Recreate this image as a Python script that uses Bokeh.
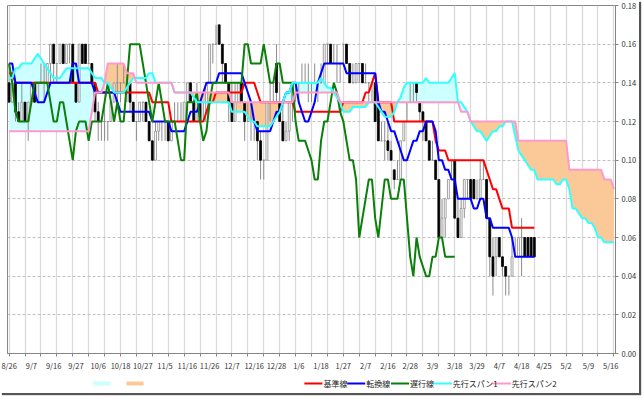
import numpy as np
from bokeh.plotting import figure
from bokeh.layouts import column
from bokeh.models import Range1d, FixedTicker, NumeralTickFormatter
from bokeh.core.properties import value
from bokeh.embed import file_html
from bokeh.resources import INLINE

# ---------------- data ----------------
date_labels = ["8/26", "9/7", "9/16", "9/27", "10/6", "10/18", "10/27", "11/5", "11/16",
               "11/26", "12/7", "12/16", "12/28", "1/6", "1/18", "1/27", "2/7", "2/16",
               "2/28", "3/9", "3/18", "3/29", "4/7", "4/18", "4/25", "5/2", "5/9", "5/16"]

open_px = [
    .14, .13, .14, .125, .12, .13, .12, .13, .14, .13,
    .14, .14, .14, .15, .16, .15, .15, .16, .15, .16,
    .16, .14, .13, .16, .16, .15, .15, .14, .125, .12,
    .12, .12, .12, .13, .14, .14, .14, .14, .14, .13,
    .12, .12, .13, .13, .12, .11, .10, .115, .12, .12,
    .12, .11, .12, .12, .12, .12, .13, .14, .13, .12,
    .13, .12, .12, .14, .16, .16, .17, .16, .15, .14,
    .13, .12, .13, .14, .13, .12, .12, .12, .12, .11,
    .10, .10, .13, .13, .15, .13, .12, .11, .115, .13,
    .14, .14, .14, .14, .14, .14, .14, .14, .14, .14,
    .16, .16, .15, .15, .15, .16, .16, .15, .14, .14,
    .15, .15, .14, .14, .14, .14, .13, .11, .11, .11,
    .105, .095, .09, .09, .11, .12, .13, .14, .14, .13,
    .125, .12, .11, .10, .10, .09, .06, .07, .08, .09,
    .10, .07, .06, .075, .09, .09, .09, .08, .08, .09,
    .09, .07, .05, .05, .06, .05, .045, .04, .04, .05,
    .05, .06, .06, .06, .06, .06]
high_px = [
    .15, .14, .14, .13, .14, .13, .13, .14, .14, .14,
    .15, .15, .15, .16, .16, .15, .16, .16, .16, .16,
    .16, .14, .16, .16, .16, .16, .15, .14, .13, .12,
    .13, .12, .13, .14, .15, .14, .15, .14, .14, .13,
    .12, .13, .13, .13, .12, .11, .12, .12, .12, .12,
    .12, .12, .13, .13, .13, .13, .14, .14, .13, .14,
    .13, .13, .14, .16, .16, .17, .17, .16, .15, .14,
    .14, .14, .14, .14, .13, .13, .13, .12, .12, .115,
    .10, .13, .14, .14, .16, .14, .13, .12, .13, .14,
    .14, .14, .15, .15, .15, .14, .15, .14, .15, .16,
    .16, .16, .16, .16, .15, .16, .16, .15, .15, .15,
    .15, .15, .15, .14, .14, .14, .13, .12, .12, .12,
    .11, .095, .10, .11, .12, .13, .14, .14, .14, .13,
    .125, .12, .11, .11, .10, .09, .08, .08, .09, .10,
    .10, .08, .08, .09, .09, .09, .09, .09, .10, .10,
    .09, .07, .06, .06, .06, .05, .045, .04, .06, .06,
    .06, .07, .06, .06, .06, .06]
low_px = [
    .13, .13, .12, .12, .12, .12, .11, .13, .13, .13,
    .14, .13, .14, .14, .14, .14, .15, .15, .15, .15,
    .14, .13, .13, .15, .15, .15, .14, .12, .11, .11,
    .11, .11, .12, .13, .13, .13, .14, .13, .125, .12,
    .11, .12, .12, .12, .11, .10, .10, .11, .11, .11,
    .11, .11, .12, .12, .12, .12, .13, .13, .12, .12,
    .12, .12, .12, .14, .15, .16, .16, .14, .14, .12,
    .12, .12, .13, .13, .11, .12, .11, .11, .10, .09,
    .09, .10, .12, .13, .13, .12, .11, .11, .11, .12,
    .13, .13, .14, .14, .13, .13, .14, .13, .14, .14,
    .15, .15, .15, .14, .14, .15, .15, .14, .14, .14,
    .14, .14, .14, .13, .13, .12, .11, .11, .10, .10,
    .10, .085, .09, .09, .11, .12, .13, .13, .13, .12,
    .11, .11, .10, .10, .09, .06, .06, .06, .08, .09,
    .07, .06, .06, .07, .08, .08, .08, .08, .08, .09,
    .07, .04, .03, .04, .05, .04, .03, .03, .04, .05,
    .05, .04, .05, .05, .05, .05]
close_px = [
    .13, .14, .125, .12, .13, .12, .13, .14, .13, .14,
    .14, .14, .15, .16, .15, .15, .16, .15, .16, .16,
    .14, .13, .16, .15, .15, .15, .14, .125, .12, .12,
    .12, .12, .13, .14, .14, .14, .14, .14, .13, .12,
    .12, .13, .13, .12, .11, .10, .115, .12, .12, .12,
    .11, .12, .12, .12, .12, .13, .14, .13, .12, .13,
    .12, .12, .14, .16, .16, .16, .16, .15, .14, .13,
    .12, .13, .14, .13, .12, .12, .12, .12, .11, .10,
    .10, .13, .13, .13, .135, .12, .11, .115, .13, .14,
    .14, .14, .14, .14, .14, .14, .14, .14, .14, .16,
    .16, .15, .15, .15, .15, .16, .15, .14, .14, .15,
    .15, .14, .14, .14, .14, .12, .11, .11, .11, .105,
    .10, .09, .09, .11, .12, .12, .13, .14, .135, .125,
    .12, .11, .10, .10, .09, .06, .07, .08, .09, .09,
    .07, .06, .075, .09, .09, .08, .08, .08, .09, .09,
    .07, .05, .04, .06, .05, .045, .04, .04, .05, .05,
    .06, .06, .05, .05, .05, .05]

kijun = [  # 基準線
    .145, .145, .14, .14, .14, .14, .14, .14, .14, .14,
    .14, .14, .14, .14, .14, .14, .14, .14, .14, .14,
    .14, .14, .14, .14, .14, .14, .14, .14, .135, .135,
    .135, .135, .135, .135, .135, .135, .135, .135, .135, .135,
    .135, .135, .135, .135, .135, .13, .13, .13, .13, .13,
    .13, .12, .12, .12, .12, .12, .12, .12, .12, .12,
    .12, .12, .125, .13, .13, .135, .135, .135, .135, .135,
    .135, .135, .135, .135, .14, .14, .14, .14, .135, .13,
    .13, .13, .13, .13, .13, .13, .13, .13, .13, .13,
    .125, .125, .125, .125, .125, .125, .125, .125, .125, .125,
    .125, .125, .125, .125, .125, .13, .13, .13, .13, .13,
    .13, .13, .135, .135, .14, .145, .13, .13, .13, .13,
    .13, .12, .12, .12, .12, .12, .12, .12, .12, .12,
    .12, .12, .12, .12, .11, .105, .105, .105, .10, .10,
    .10, .10, .10, .10, .10, .10, .10, .10, .10, .10,
    .095, .09, .085, .085, .08, .075, .075, .075, .065, .065,
    .065, .065, .065, .065, .065, .065]
tenkan = [  # 転換線
    .15, .15, .14, .14, .14, .14, .14, .14, .135, .13,
    .13, .13, .135, .14, .14, .14, .14, .14, .14, .14,
    .15, .15, .14, .14, .14, .14, .14, .135, .135, .135,
    .135, .135, .135, .135, .13, .125, .125, .125, .125, .125,
    .125, .125, .125, .125, .125, .12, .12, .12, .12, .12,
    .12, .115, .115, .115, .115, .115, .12, .125, .125, .125,
    .13, .135, .14, .14, .14, .14, .145, .145, .145, .145,
    .145, .145, .145, .145, .14, .135, .13, .12, .115, .115,
    .115, .115, .115, .12, .125, .125, .13, .135, .135, .14,
    .14, .13, .125, .12, .12, .125, .13, .14, .145, .15,
    .15, .15, .15, .15, .15, .15, .145, .145, .145, .145,
    .145, .145, .145, .145, .145, .145, .13, .125, .125, .12,
    .115, .115, .11, .105, .10, .10, .105, .11, .11, .115,
    .115, .12, .12, .12, .115, .10, .10, .095, .095, .09,
    .09, .08, .08, .08, .08, .08, .075, .075, .08, .08,
    .07, .07, .065, .065, .065, .065, .065, .065, .06, .05,
    .05, .05, .05, .05, .05, .05]
span1 = [  # 先行スパン1
    .1425, .1425, .1475, .1475, .15, .15, .15, .15, .1525, .155,
    .1525, .15, .1475, .145, .1425, .1425, .1425, .145, .1475, .1475,
    .1475, .1475, .1475, .1475, .1475, .1475, .145, .1425, .1425, .1425,
    .14, .14, .1375, .135, .135, .135, .135, .1375, .14, .1425,
    .1425, .1425, .1425, .1425, .145, .145, .14, .14, .14, .14,
    .14, .14, .135, .135, .135, .135, .135, .135, .1325, .13,
    .13, .13, .13, .13, .13, .13, .13, .13, .13, .13,
    .125, .125, .125, .125, .125, .1225, .12, .12, .1175, .1175,
    .1175, .1175, .1175, .12, .1225, .125, .13, .135, .135, .14,
    .14, .14, .14, .14, .14, .14, .14, .14, .1425, .14,
    .1375, .1375, .135, .1325, .13, .125, .125, .125, .1275, .1275,
    .1275, .1275, .1275, .13, .13, .13, .1275, .125, .1225, .1225,
    .1225, .125, .13, .1325, .1375, .14, .14, .14, .14, .14,
    .14, .1425, .14, .14, .14, .14, .14, .14, .14, .1425,
    .145, .13, .13, .1275, .125, .12, .1175, .115, .115, .1125,
    .11, .1125, .115, .115, .1175, .1175, .12, .12, .12, .1125,
    .105, .1025, .10, .0975, .095, .095, .09, .09, .09, .09,
    .09, .09, .0875, .0875, .09, .09, .085, .075, .075, .0725,
    .07, .07, .0675, .0675, .065, .06, .06, .0575, .0575, .0575,
    .0575]
span2 = [  # 先行スパン2
    .115, .115, .115, .115, .115, .115, .115, .115, .115, .115,
    .115, .115, .115, .115, .115, .115, .115, .115, .115, .115,
    .115, .115, .115, .115, .115, .115, .125, .135, .135, .135,
    .14, .15, .15, .15, .15, .15, .15, .145, .145, .145,
    .14, .14, .14, .14, .14, .14, .14, .14, .14, .14,
    .14, .14, .135, .135, .135, .135, .135, .135, .135, .135,
    .135, .135, .135, .135, .135, .135, .135, .135, .135, .135,
    .13, .13, .13, .13, .13, .13, .13, .13, .13, .13,
    .13, .13, .13, .13, .13, .13, .13, .13, .13, .13,
    .135, .135, .135, .135, .135, .135, .135, .135, .135, .135,
    .135, .135, .135, .135, .13, .13, .13, .13, .13, .13,
    .13, .13, .13, .13, .13, .13, .13, .13, .13, .13,
    .13, .13, .13, .13, .13, .13, .13, .13, .13, .13,
    .13, .13, .13, .13, .13, .13, .13, .13, .13, .13,
    .13, .13, .125, .125, .125, .12, .12, .12, .12, .12,
    .12, .12, .12, .12, .12, .12, .12, .12, .12, .12,
    .11, .11, .11, .11, .11, .11, .11, .11, .11, .11,
    .11, .11, .11, .11, .11, .11, .095, .095, .095, .095,
    .095, .095, .095, .095, .095, .095, .095, .09, .09, .09,
    .085]
legend_labels = ["基準線", "転換線", "遅行線", "先行スパン1", "先行スパン2"]
CHIKOU_SHIFT = 25
LABEL_EVERY = 7
GRID_EVERY = 5

# colours
C_KIJUN, C_TENKAN, C_CHIKOU = "#ff0000", "#0000ff", "#0a800a"
C_SPAN1, C_SPAN2 = "#33ffff", "#ff99cc"
CLOUD_UP, CLOUD_DN = "#ccffff", "#fbc998"
FONT = "Noto Sans CJK JP"

# ---------------- main figure ----------------
W = 639
n_total = len(span1)
p = figure(width=W, height=373, output_backend="svg", toolbar_location=None,
           x_range=Range1d(-0.5, n_total - 0.5), y_range=Range1d(0, 0.18),
           y_axis_location="right", min_border_left=7, min_border_right=22,
           min_border_top=5, min_border_bottom=18)
p.background_fill_color = "white"
p.border_fill_color = "white"
p.outline_line_color = "#868686"
p.outline_line_width = 1

label_pos = list(range(0, n_total, LABEL_EVERY))[:len(date_labels)]
grid_pos = list(range(0, n_total, GRID_EVERY))
p.xaxis.ticker = FixedTicker(ticks=label_pos, minor_ticks=grid_pos)
p.xaxis.major_label_overrides = {k: v for k, v in zip(label_pos, date_labels)}
p.xaxis.major_tick_line_color = None
p.xaxis.major_tick_in = 0
p.xaxis.major_tick_out = 3
p.xaxis.minor_tick_line_color = "#868686"
p.xaxis.minor_tick_in = 0
p.xaxis.minor_tick_out = 3
p.xaxis.axis_line_color = "#868686"
p.xaxis.major_label_standoff = 3
p.xaxis.major_label_text_font = FONT
p.xaxis.major_label_text_font_size = "7.5px"
p.xaxis.major_label_text_color = "#333333"

p.yaxis.ticker = FixedTicker(ticks=[0, .02, .04, .06, .08, .10, .12, .14, .16, .18])
p.yaxis.formatter = NumeralTickFormatter(format="0.00")
p.yaxis.axis_line_color = "#868686"
p.yaxis.major_tick_line_color = "#868686"
p.yaxis.major_tick_in = 0
p.yaxis.major_tick_out = 3
p.yaxis.minor_tick_line_color = None
p.yaxis.major_label_standoff = 3
p.yaxis.major_label_text_font = FONT
p.yaxis.major_label_text_font_size = "7.5px"
p.yaxis.major_label_text_color = "#333333"

p.xgrid.ticker = FixedTicker(ticks=grid_pos)
p.xgrid.grid_line_color = "#dadada"
p.xgrid.grid_line_width = 1.3
p.ygrid.grid_line_color = "#c0c0c0"
p.ygrid.grid_line_dash = "3 2"
p.ygrid.grid_line_width = 1

# ---------------- cloud fill (with crossing points inserted) ----------------
s1 = np.array(span1, dtype=float)
s2 = np.array(span2, dtype=float)
xs = np.arange(n_total, dtype=float)
X, A, B = [xs[0]], [s1[0]], [s2[0]]
for k in range(n_total - 1):
    d0 = s1[k] - s2[k]
    d1 = s1[k + 1] - s2[k + 1]
    if d0 * d1 < 0:
        t = d0 / (d0 - d1)
        yc = s1[k] + t * (s1[k + 1] - s1[k])
        X.append(xs[k] + t); A.append(yc); B.append(yc)
    X.append(xs[k + 1]); A.append(s1[k + 1]); B.append(s2[k + 1])
X = np.array(X); A = np.array(A); B = np.array(B)
top = np.maximum(A, B)
p.varea(x=X, y1=B, y2=top, fill_color=CLOUD_UP)
p.varea(x=X, y1=A, y2=top, fill_color=CLOUD_DN)

# ---------------- candles ----------------
o = np.array(open_px); h = np.array(high_px); l = np.array(low_px); c = np.array(close_px)
xc = np.arange(len(c))
p.segment(x0=xc, y0=l, x1=xc, y1=h, line_color="#8c8c8c", line_width=1)
down = c < o
up = ~down
p.vbar(x=xc[down], width=0.6, top=o[down], bottom=c[down],
       fill_color="black", line_color="black", line_width=0.8)
p.vbar(x=xc[up], width=0.6, top=np.maximum(o, c)[up], bottom=np.minimum(o, c)[up],
       fill_color="white", line_color="#8c8c8c", line_width=0.8)

# ---------------- lines ----------------
p.line(np.arange(len(kijun)), kijun, line_color=C_KIJUN, line_width=2)
p.line(np.arange(len(tenkan)), tenkan, line_color=C_TENKAN, line_width=2)
chikou_y = close_px[CHIKOU_SHIFT:]
p.line(np.arange(len(chikou_y)), chikou_y, line_color=C_CHIKOU, line_width=2)
p.line(xs, span1, line_color=C_SPAN1, line_width=2)
p.line(xs, span2, line_color=C_SPAN2, line_width=2)

# ---------------- legend strip (separate small figure, pixel coordinates) ----------------
LH = 20
lf = figure(width=W, height=LH, output_backend="svg", toolbar_location=None,
            x_range=Range1d(0, W), y_range=Range1d(0, LH),
            x_axis_type=None, y_axis_type=None, min_border=0)
lf.outline_line_color = None
lf.grid.visible = False
lf.background_fill_color = "white"
lf.border_fill_color = "white"
ymid = LH / 2
# two cloud swatches
lf.quad(left=[90, 125], right=[108, 143], bottom=[ymid - 2, ymid - 2], top=[ymid + 2, ymid + 2],
        fill_color=[CLOUD_UP, CLOUD_DN], line_color=None)
# line items
seg_x0 = [312, 357, 403, 448, 510]
line_cols = [C_KIJUN, C_TENKAN, C_CHIKOU, C_SPAN1, C_SPAN2]
lf.segment(x0=seg_x0, y0=[ymid] * 5, x1=[x + 19 for x in seg_x0], y1=[ymid] * 5,
           line_color=line_cols, line_width=2)
lf.text(x=[x + 20 for x in seg_x0], y=[ymid] * 5, text=legend_labels,
        text_font=value(FONT), text_font_size="8px", text_color="#222222",
        text_baseline="middle", text_align="left")

layout = column(p, lf, spacing=0, styles={"box-shadow": "2px 2px 1px #555555"})

open("out.html", "w").write(file_html(layout, INLINE))
